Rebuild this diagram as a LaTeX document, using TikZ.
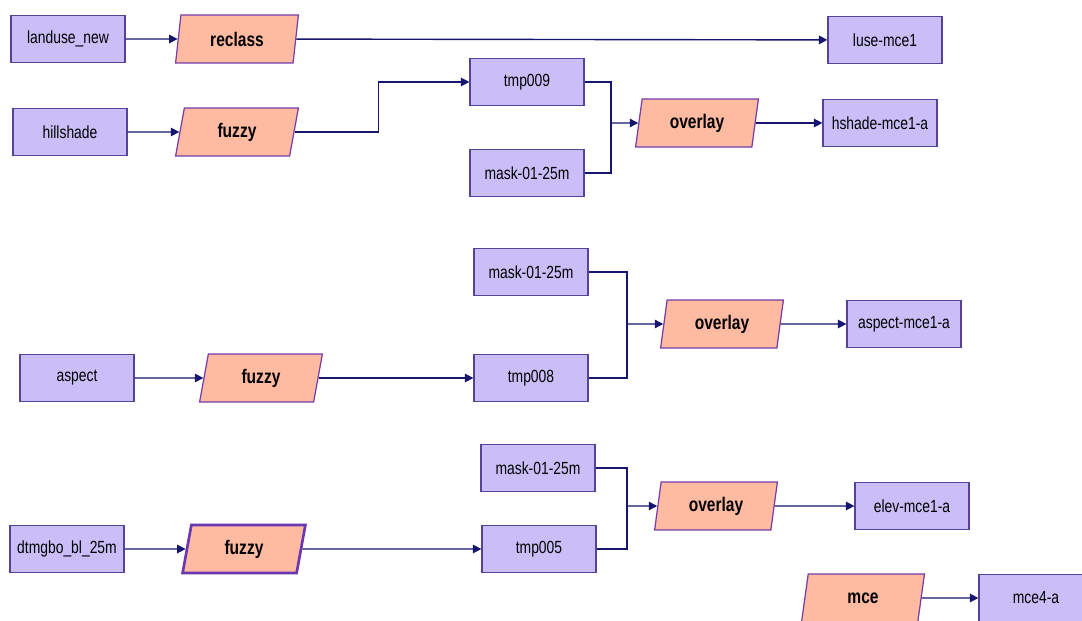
\documentclass[tikz,border=0pt]{standalone}
\usepackage{fontspec}
\setmainfont{Liberation Sans}[FakeStretch=0.79]
\usepackage{xcolor}
\usetikzlibrary{arrows.meta, shapes.geometric}

\definecolor{layerfill}{RGB}{202,190,248}
\definecolor{layerline}{RGB}{86,66,150}
\definecolor{opfill}{RGB}{255,186,162}
\definecolor{opline}{RGB}{118,60,170}
\definecolor{wire}{RGB}{22,22,110}

\begin{document}
\begin{tikzpicture}[x=0.02cm, y=-0.02cm]

\tikzset{
    layer/.style={rectangle, draw=layerline, fill=layerfill, line width=0.7pt,
        minimum width=2.28cm, minimum height=0.94cm, inner sep=0pt,
        font=\fontsize{10}{12}\selectfont},
    op/.style={trapezium, trapezium left angle=80, trapezium right angle=100,
        trapezium stretches=true, draw=opline, fill=opfill, line width=0.7pt,
        minimum width=2.46cm, minimum height=0.96cm, inner sep=0pt,
        font=\fontsize{11.2}{13}\selectfont\bfseries},
    conn/.style={wire, line width=0.8pt, -{Triangle[length=1.7mm, width=1.7mm]}},
    wireline/.style={wire, line width=0.8pt}
}

\clip (0,0) rectangle (1082,621);
\fill[white] (0,0) rectangle (1082,621);

%====================================================
% TOP: landuse and hillshade
%====================================================
\node[layer] (landuse)   at (68,39)   {landuse\_new};
\node[op]    (reclass)   at (237,39)  {reclass};
\node[layer] (luse)      at (885,40)  {luse-mce1};

\node[layer] (hillshade) at (70,132)  {hillshade};
\node[op]    (fuzzyA)    at (237,132) {fuzzy};
\node[layer] (tmpA)      at (527,82)  {tmp009};
\node[layer] (maskA)     at (527,173) {mask-01-25m};
\node[op]    (overlayA)  at (697,123) {overlay};
\node[layer] (hshade)    at (880,123) {hshade-mce1-a};

%====================================================
% MIDDLE: aspect
%====================================================
\node[layer] (maskB)     at (531,272) {mask-01-25m};
\node[op]    (overlayB)  at (722,324) {overlay};
\node[layer] (aspectout) at (904,324) {aspect-mce1-a};
\node[layer] (aspect)    at (77,378)  {aspect};
\node[op]    (fuzzyB)    at (261,378) {fuzzy};
\node[layer] (tmpB)      at (531,378) {tmp008};

%====================================================
% BOTTOM: elevation
%====================================================
\node[layer] (maskC)     at (538,468) {mask-01-25m};
\node[op]    (overlayC)  at (716,506) {overlay};
\node[layer] (elev)      at (912,506) {elev-mce1-a};
\node[layer] (dtm)       at (67,549)  {dtmgbo\_bl\_25m};
\node[op, draw=opline!90!blue, line width=1.5pt]
             (fuzzyC)    at (244,549) {fuzzy};
\node[layer] (tmpC)      at (539,549) {tmp005};

\node[op]    (mce)       at (863,598) {mce};
\node[layer] (mceout)    at (1036,598) {mce4-a};

%====================================================
% CONNECTORS
%====================================================
% straight ones
\foreach \a/\b in {landuse/reclass, reclass/luse, hillshade/fuzzyA,
    overlayA/hshade, aspect/fuzzyB, fuzzyB/tmpB, overlayB/aspectout,
    dtm/fuzzyC, fuzzyC/tmpC, overlayC/elev, mce/mceout}{
    \draw[conn] (\a) -- (\b);
}

% elbow from fuzzy to tmp009
\draw[conn] (fuzzyA.east) -- ++(84,0) |- (tmpA.west);

% joins into the overlays
\coordinate (jA) at (611,123);
\coordinate (jB) at (627,324);
\coordinate (jC) at (627,506);

\draw[wireline] (tmpA.east) -| (jA);
\draw[wireline] (maskA.east) -| (jA);
\draw[conn] (jA) -- (overlayA);

\draw[wireline] (maskB.east) -| (jB);
\draw[wireline] (tmpB.east) -| (jB);
\draw[conn] (jB) -- (overlayB);

\draw[wireline] (maskC.east) -| (jC);
\draw[wireline] (tmpC.east) -| (jC);
\draw[conn] (jC) -- (overlayC);

\end{tikzpicture}
\end{document}
